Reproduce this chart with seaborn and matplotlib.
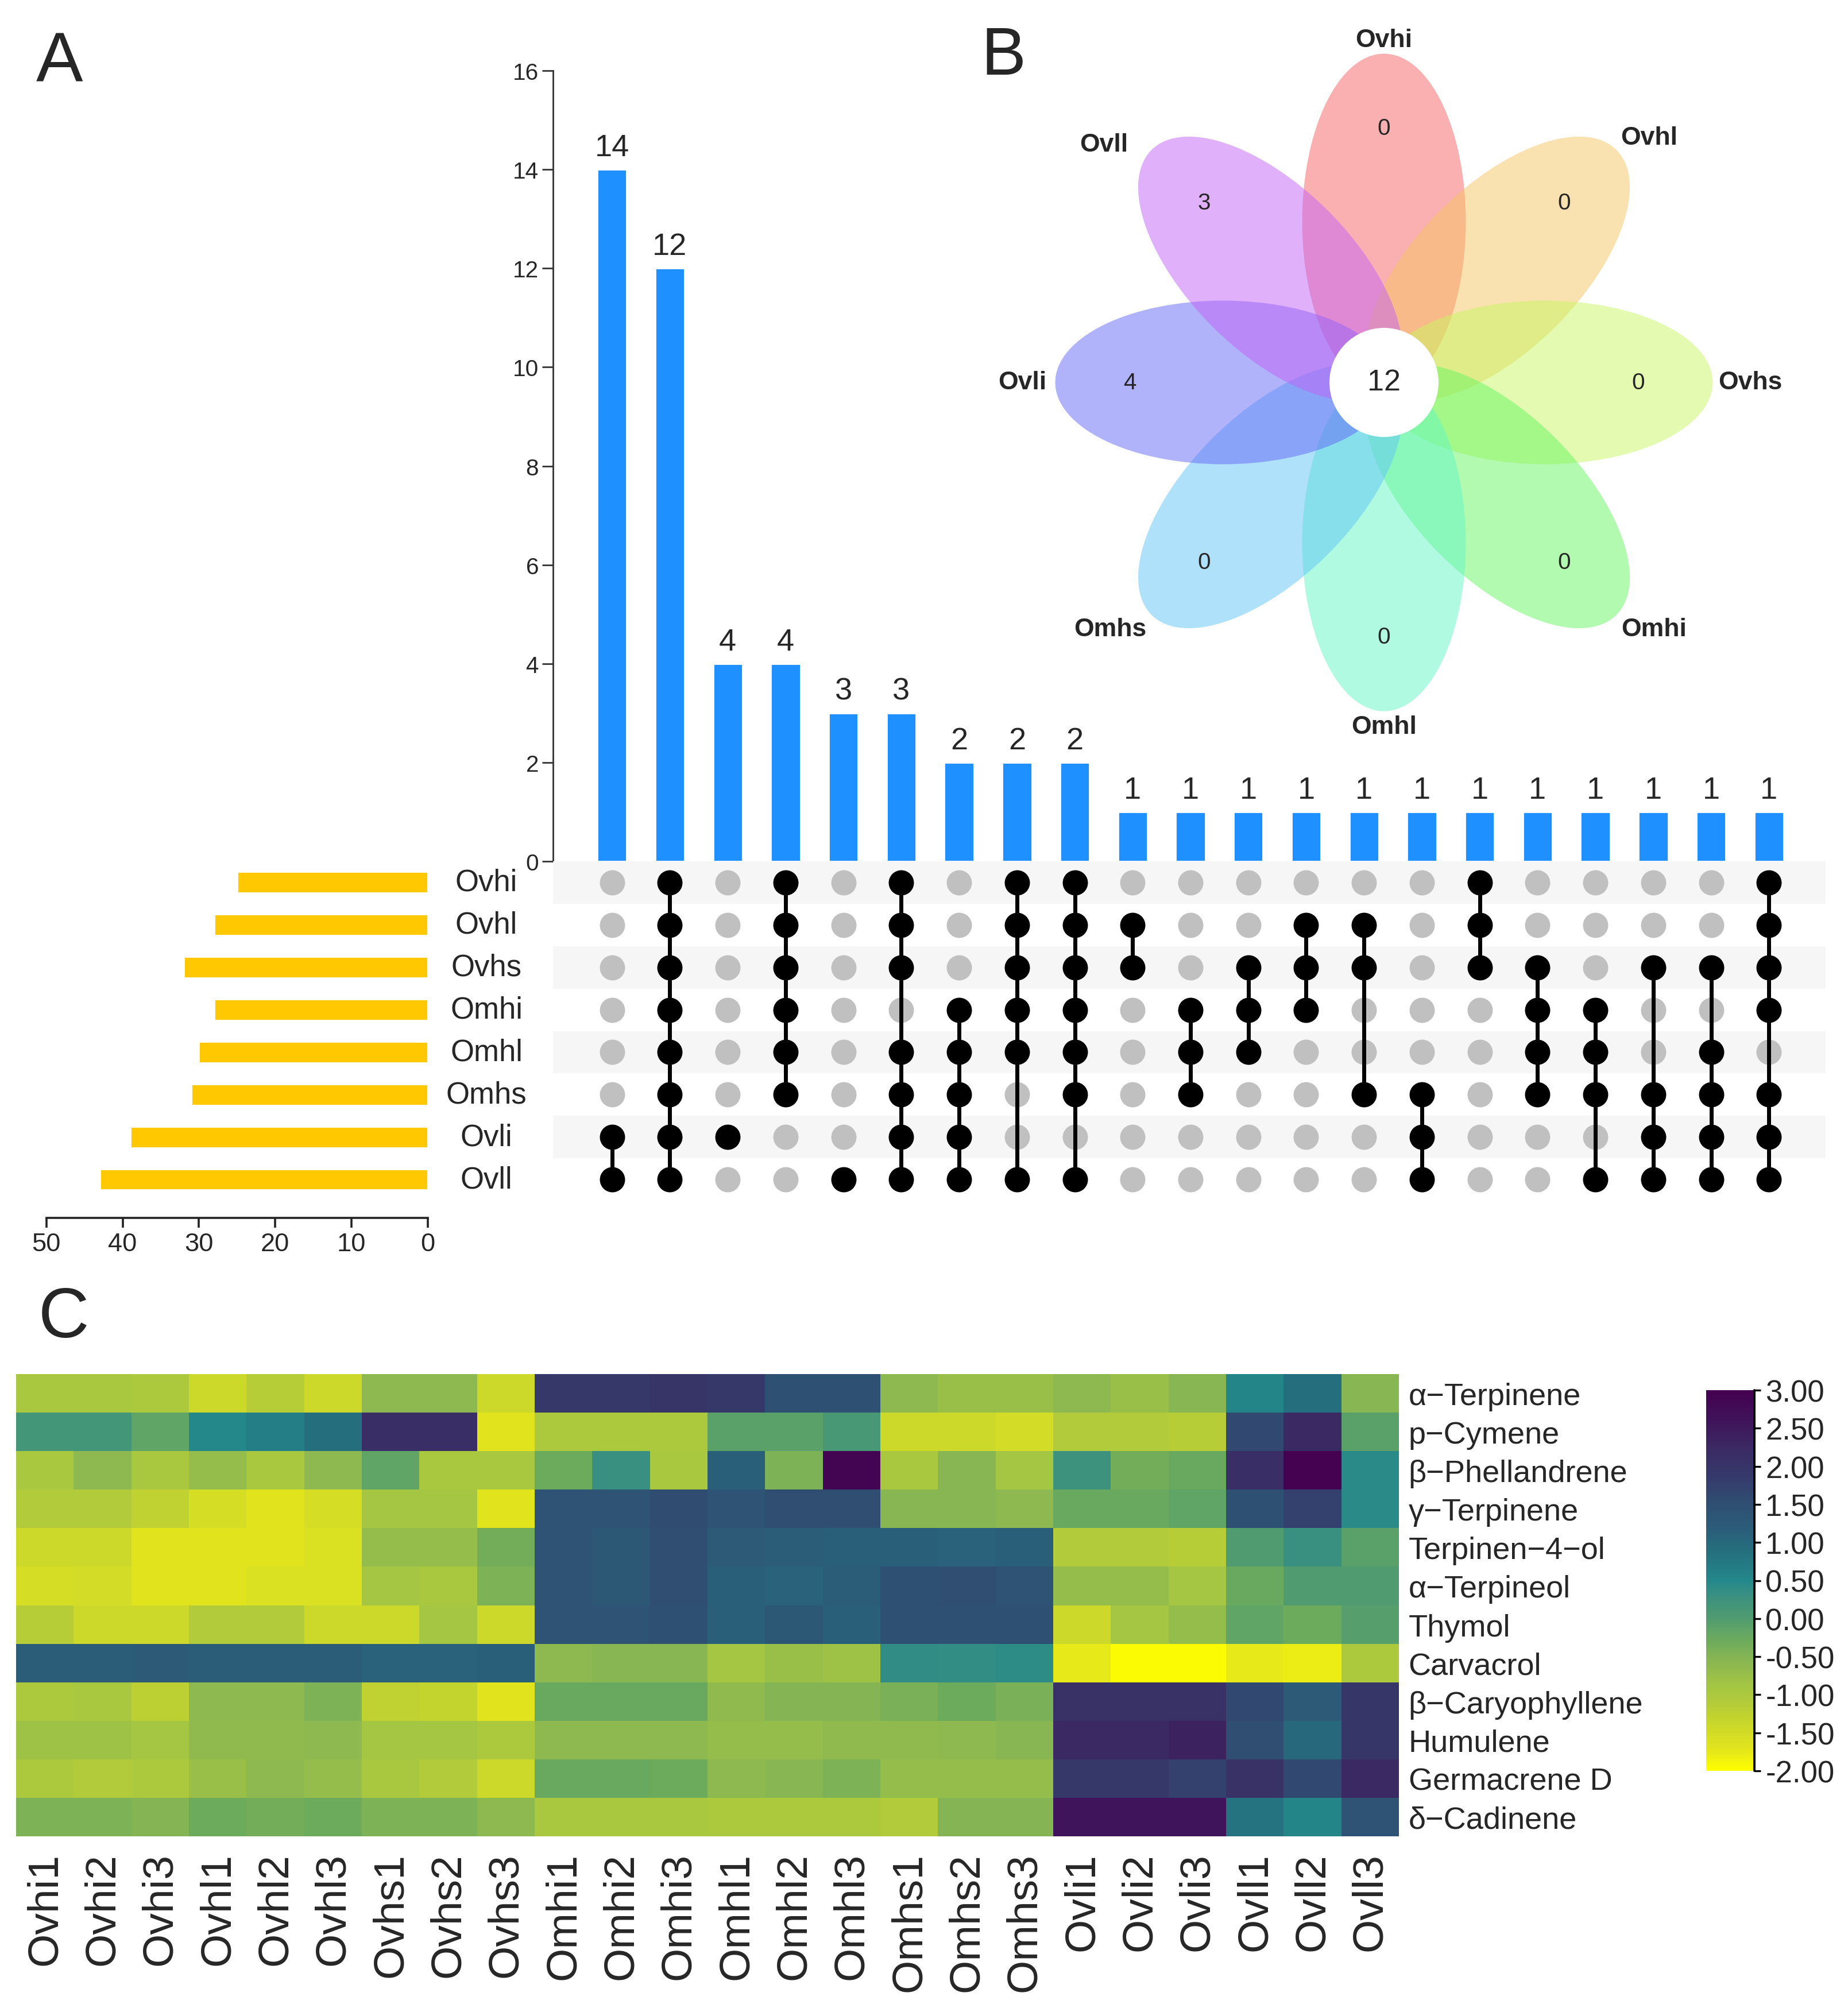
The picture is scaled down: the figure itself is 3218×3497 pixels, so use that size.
import numpy as np
import pandas as pd
import matplotlib
matplotlib.use("Agg")
import matplotlib.pyplot as plt
import seaborn as sns
from matplotlib.patches import Ellipse, Circle
from matplotlib.colors import LinearSegmentedColormap
from matplotlib.ticker import FormatStrFormatter

sns.set_theme(style="white")
plt.rcParams['font.family'] = ['Liberation Sans', 'DejaVu Sans']
plt.rcParams['axes.unicode_minus'] = False

W, H = 3218, 3498
DPI = 200

# ---------------- data: upset plot (A) ----------------
set_names = ["Ovhi", "Ovhl", "Ovhs", "Omhi", "Omhl", "Omhs", "Ovli", "Ovll"]
set_sizes = [25, 28, 32, 28, 30, 31, 39, 43]

inter_counts = [14, 12, 4, 4, 3, 3, 2, 2, 2, 1, 1, 1, 1, 1, 1, 1, 1, 1, 1, 1, 1]
inter_members = [
    ["Ovli", "Ovll"],
    ["Ovhi", "Ovhl", "Ovhs", "Omhi", "Omhl", "Omhs", "Ovli", "Ovll"],
    ["Ovli"],
    ["Ovhi", "Ovhl", "Ovhs", "Omhi", "Omhl", "Omhs"],
    ["Ovll"],
    ["Ovhi", "Ovhl", "Ovhs", "Omhl", "Omhs", "Ovli", "Ovll"],
    ["Omhi", "Omhl", "Omhs", "Ovli", "Ovll"],
    ["Ovhi", "Ovhl", "Ovhs", "Omhi", "Omhl", "Ovll"],
    ["Ovhi", "Ovhl", "Ovhs", "Omhi", "Omhl", "Omhs", "Ovll"],
    ["Ovhl", "Ovhs"],
    ["Omhi", "Omhl", "Omhs"],
    ["Ovhs", "Omhi", "Omhl"],
    ["Ovhl", "Ovhs", "Omhi"],
    ["Ovhl", "Ovhs", "Omhs"],
    ["Omhs", "Ovli", "Ovll"],
    ["Ovhi", "Ovhl", "Ovhs"],
    ["Ovhs", "Omhi", "Omhl", "Omhs"],
    ["Omhi", "Omhl", "Omhs", "Ovll"],
    ["Ovhs", "Omhs", "Ovli", "Ovll"],
    ["Ovhs", "Omhl", "Omhs", "Ovli", "Ovll"],
    ["Ovhi", "Ovhl", "Ovhs", "Omhi", "Omhs", "Ovli", "Ovll"],
]

# ---------------- data: flower venn (B) ----------------
venn_sets = ["Ovhi", "Ovhl", "Ovhs", "Omhi", "Omhl", "Omhs", "Ovli", "Ovll"]
venn_unique = [0, 0, 0, 0, 0, 0, 4, 3]
venn_core = 12
venn_colors = ["#F76262", "#F7C462", "#C8F762", "#66F762",
               "#62F7C4", "#62C5F7", "#6266F7", "#C562F7"]

# ---------------- data: heatmap (C) ----------------
compounds = ["α−Terpinene", "p−Cymene", "β−Phellandrene", "γ−Terpinene",
             "Terpinen−4−ol", "α−Terpineol", "Thymol", "Carvacrol",
             "β−Caryophyllene", "Humulene", "Germacrene D", "δ−Cadinene"]
samples = ["Ovhi1", "Ovhi2", "Ovhi3", "Ovhl1", "Ovhl2", "Ovhl3",
           "Ovhs1", "Ovhs2", "Ovhs3", "Omhi1", "Omhi2", "Omhi3",
           "Omhl1", "Omhl2", "Omhl3", "Omhs1", "Omhs2", "Omhs3",
           "Ovli1", "Ovli2", "Ovli3", "Ovll1", "Ovll2", "Ovll3"]

a_terpinene = [-0.95, -0.95, -1.0, -1.4, -1.15, -1.4, -0.6, -0.6, -1.4,
               1.9, 1.9, 2.0, 1.9, 1.45, 1.45, -0.6, -0.75, -0.75,
               -0.6, -0.75, -0.55, 0.55, 0.9, -0.55]
p_cymene = [0.15, 0.15, -0.15, 0.5, 0.65, 0.9, 2.15, 2.15, -1.7,
            -1.0, -1.0, -1.0, -0.1, -0.1, 0.1, -1.4, -1.4, -1.5,
            -1.1, -1.1, -1.15, 1.6, 2.25, -0.1]
b_phellandrene = [-0.95, -0.6, -0.95, -0.7, -0.95, -0.6, -0.15, -0.95, -0.95,
                  -0.3, 0.3, -0.95, 1.15, -0.45, 2.9, -0.95, -0.55, -0.9,
                  0.25, -0.35, -0.25, 2.15, 2.95, 0.45]
g_terpinene = [-1.1, -1.1, -1.25, -1.55, -1.7, -1.55, -0.9, -0.9, -1.7,
               1.4, 1.4, 1.55, 1.4, 1.5, 1.5, -0.55, -0.55, -0.6,
               -0.25, -0.25, -0.15, 1.45, 1.75, 0.45]
terpinen_4_ol = [-1.4, -1.4, -1.7, -1.7, -1.7, -1.6, -0.7, -0.7, -0.35,
                 1.4, 1.3, 1.5, 1.25, 1.2, 1.15, 1.15, 1.1, 1.15,
                 -1.1, -1.1, -1.15, 0.0, 0.3, -0.1]
a_terpineol = [-1.55, -1.5, -1.7, -1.7, -1.6, -1.6, -0.9, -0.95, -0.45,
               1.4, 1.3, 1.5, 1.15, 1.1, 1.2, 1.45, 1.5, 1.4,
               -0.7, -0.7, -0.9, -0.25, 0.0, 0.0]
thymol = [-1.15, -1.4, -1.4, -1.1, -1.1, -1.4, -1.4, -0.9, -1.4,
          1.4, 1.4, 1.45, 1.15, 1.3, 1.15, 1.45, 1.45, 1.45,
          -1.4, -0.9, -0.7, -0.15, -0.3, -0.05]
carvacrol = [1.2, 1.2, 1.25, 1.2, 1.2, 1.2, 1.1, 1.1, 1.15,
             -0.6, -0.55, -0.55, -0.9, -0.75, -0.8, 0.4, 0.38, 0.42,
             -1.75, -1.95, -1.95, -1.75, -1.8, -1.0]
b_caryophyllene = [-1.0, -0.95, -1.2, -0.6, -0.6, -0.45, -1.25, -1.3, -1.7,
                   -0.25, -0.25, -0.25, -0.65, -0.5, -0.5, -0.4, -0.3, -0.4,
                   2.05, 2.05, 2.05, 1.6, 1.25, 1.95]
humulene = [-0.8, -0.8, -0.9, -0.65, -0.65, -0.6, -0.9, -0.9, -1.0,
            -0.6, -0.6, -0.6, -0.7, -0.7, -0.65, -0.65, -0.6, -0.55,
            2.25, 2.25, 2.35, 1.5, 1.0, 1.95]
germacrene_d = [-1.0, -1.1, -1.0, -0.75, -0.6, -0.7, -0.95, -1.1, -1.4,
                -0.25, -0.25, -0.3, -0.6, -0.55, -0.45, -0.7, -0.7, -0.7,
                1.9, 1.9, 1.75, 2.05, 1.6, 2.25]
d_cadinene = [-0.45, -0.45, -0.5, -0.3, -0.35, -0.3, -0.45, -0.45, -0.6,
              -0.95, -0.95, -0.95, -1.0, -1.0, -1.0, -1.1, -0.5, -0.5,
              2.6, 2.6, 2.6, 0.85, 0.55, 1.4]

heat_df = pd.DataFrame(
    [a_terpinene, p_cymene, b_phellandrene, g_terpinene, terpinen_4_ol,
     a_terpineol, thymol, carvacrol, b_caryophyllene, humulene,
     germacrene_d, d_cadinene],
    index=compounds, columns=samples)

# colour ramp
cmap_points = [(-2.0, "#FFFF00"), (-1.7, "#E0E31E"), (-1.4, "#CBD82A"),
               (-1.1, "#B2CB3A"), (-0.9, "#A5C642"), (-0.6, "#8DB850"),
               (-0.3, "#6EAB5C"), (0.0, "#509C70"), (0.3, "#3A9080"),
               (0.5, "#24888A"), (0.9, "#256E7E"), (1.2, "#2B5C78"),
               (1.5, "#2F4F72"), (1.9, "#36386A"), (2.2, "#3A2C64"),
               (2.6, "#40145A"), (3.0, "#440050")]
cmap = LinearSegmentedColormap.from_list(
    "heat", [((v + 2) / 5, c) for v, c in cmap_points])


def px_axes(fig, x0, y0, x1, y1):
    """Add axes from pixel box (top-left origin)."""
    return fig.add_axes([x0 / W, 1 - y1 / H, (x1 - x0) / W, (y1 - y0) / H])


fig = plt.figure(figsize=(W / DPI, H / DPI), dpi=DPI)

# ---------------- A: intersection bars ----------------
ax_b = px_axes(fig, 963, 124, 3179, 1501)
inter_df = pd.DataFrame({"inter": [f"I{j}" for j in range(len(inter_counts))],
                         "count": inter_counts})
sns.barplot(data=inter_df, x="inter", y="count", color="#1E90FF",
            saturation=1, width=0.51, ax=ax_b)
ax_b.set_xlim(-1.02, 20.98)
ax_b.set_ylim(0, 16)
ax_b.set_yticks(range(0, 17, 2))
ax_b.set_xticks([])
ax_b.set_xlabel("")
ax_b.set_ylabel("")
for s in ["top", "right", "bottom"]:
    ax_b.spines[s].set_visible(False)
ax_b.spines["left"].set_color("#333333")
ax_b.spines["left"].set_linewidth(1.0)
ax_b.tick_params(axis="y", left=True, length=7, width=1.0, color="#333333",
                 labelsize=14.6, pad=2)
for j, c in enumerate(inter_counts):
    ax_b.text(j, c + 0.15, str(c), ha="center", va="bottom", fontsize=19.5)

# ---------------- A: membership matrix ----------------
ax_m = px_axes(fig, 963, 1501, 3179, 2092)
rows = []
for j, members in enumerate(inter_members):
    for i, s in enumerate(set_names):
        rows.append({"col": j, "row": i, "on": s in members})
mat = pd.DataFrame(rows)
for i in range(0, len(set_names), 2):
    ax_m.axhspan(i - 0.5, i + 0.5, color="#F6F6F6", zorder=0, lw=0)
sns.scatterplot(data=mat[~mat["on"]], x="col", y="row", color="#C0C0C0",
                s=250, linewidth=0, ax=ax_m, zorder=2, legend=False)
for j, members in enumerate(inter_members):
    idx = [set_names.index(s) for s in members]
    if len(idx) > 1:
        ax_m.plot([j, j], [min(idx), max(idx)], color="black", lw=2.5,
                  zorder=3, solid_capstyle="butt")
sns.scatterplot(data=mat[mat["on"]], x="col", y="row", color="black",
                s=250, linewidth=0, ax=ax_m, zorder=4, legend=False)
ax_m.set_xlim(-1.02, 20.98)
ax_m.set_ylim(7.5, -0.5)
ax_m.axis("off")
for i, s in enumerate(set_names):
    ax_m.text(-0.0523, i, s, transform=ax_m.get_yaxis_transform(),
              ha="center", va="center", fontsize=19)

# ---------------- A: set size bars ----------------
ax_s = px_axes(fig, 80.7, 1501, 745, 2122)
size_df = pd.DataFrame({"set": set_names, "size": set_sizes})
sns.barplot(data=size_df, x="size", y="set", orient="h", color="#FFC800",
            saturation=1, width=0.5, ax=ax_s)
ax_s.set_xlim(50, 0)
ax_s.set_ylim(7.907, -0.5)
ax_s.set_xticks(range(50, -1, -10))
ax_s.set_yticks([])
ax_s.set_xlabel("")
ax_s.set_ylabel("")
for s in ["top", "right", "left"]:
    ax_s.spines[s].set_visible(False)
ax_s.spines["bottom"].set_color("#222222")
ax_s.spines["bottom"].set_linewidth(1.3)
ax_s.tick_params(axis="x", bottom=True, length=6, width=1.3, color="#222222",
                 labelsize=16.3, pad=3)

# ---------------- B: flower venn ----------------
ax_v = px_axes(fig, 1700, 0, 3218, 1330)
ax_v.set_xlim(1700, 3218)
ax_v.set_ylim(1330, 0)
ax_v.axis("off")
cx, cy = 2410, 667
# label offsets from the flower centre, in pixels
label_offsets = [(0, -597), (462, -427), (638, 0), (470, 429),
                 (0, 600), (-477, 429), (-630, 0), (-488, -414)]
for k, name in enumerate(venn_sets):
    ang = 90 - 45 * k
    ux, uy = np.cos(np.radians(ang)), -np.sin(np.radians(ang))
    ax_v.add_patch(Ellipse((cx + 280 * ux, cy + 280 * uy), 585, 285,
                           angle=-ang, facecolor=venn_colors[k], alpha=0.5,
                           lw=0))
    ax_v.text(cx + 443 * ux, cy + 443 * uy, str(venn_unique[k]),
              ha="center", va="center", fontsize=14.6)
    dx, dy = label_offsets[k]
    ax_v.text(cx + dx, cy + dy, name, ha="center", va="center",
              fontsize=16, fontweight="bold")
ax_v.add_patch(Circle((cx, cy), 95, facecolor="white", lw=0, zorder=5))
ax_v.text(cx, cy, str(venn_core), ha="center", va="center", fontsize=18.8,
          zorder=6)

# ---------------- C: heatmap ----------------
ax_h = px_axes(fig, 28, 2394, 2436, 3199)
cax = px_axes(fig, 2971, 2422, 3055, 3085)
sns.heatmap(heat_df, cmap=cmap, vmin=-2, vmax=3, ax=ax_h, cbar_ax=cax,
            xticklabels=True, yticklabels=True, linewidths=0)
ax_h.yaxis.tick_right()
ax_h.set_yticks(np.arange(len(compounds)) + 0.5)
ax_h.set_yticklabels(compounds, rotation=0, fontsize=19.5, ha="left")
ax_h.set_xticks(np.arange(len(samples)) + 0.5)
ax_h.set_xticklabels(samples, rotation=90, fontsize=27)
ax_h.tick_params(axis="y", length=0, pad=6, right=True, left=False)
ax_h.tick_params(axis="x", length=0, pad=10)
ax_h.set_xlabel("")
ax_h.set_ylabel("")

cbar = ax_h.collections[0].colorbar
cbar.set_ticks(np.arange(-2, 3.01, 0.5))
cbar.ax.yaxis.set_major_formatter(FormatStrFormatter("%.2f"))
cbar.outline.set_visible(False)
cbar.ax.tick_params(labelsize=19, length=4, width=1.2, right=True,
                    direction="out", color="black", pad=3)
cbar.ax.plot([1, 1], [-2, 3], color="black", lw=1.4, clip_on=False,
             transform=cbar.ax.get_yaxis_transform())

# ---------------- panel letters ----------------
fig.text(104 / W, 1 - 111 / H, "A", fontsize=44, ha="center", va="center")
fig.text(1747 / W, 1 - 100 / H, "B", fontsize=42, ha="center", va="center")
fig.text(111 / W, 1 - 2297 / H, "C", fontsize=44, ha="center", va="center")

fig.savefig("out.png", dpi=DPI)
